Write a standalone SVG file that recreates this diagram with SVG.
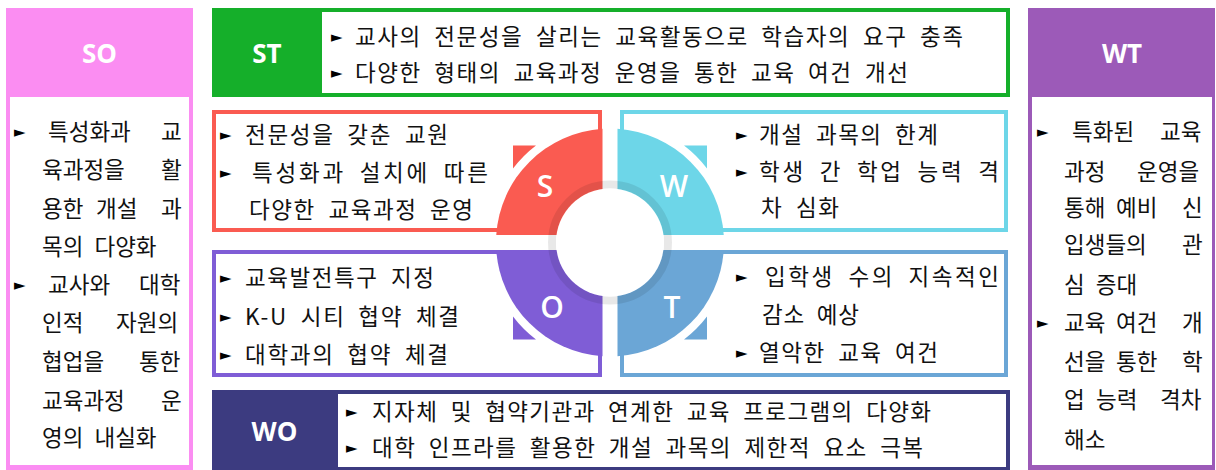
<svg xmlns="http://www.w3.org/2000/svg" width="1216" height="470" viewBox="0 0 1216 470">
<style>
.kr{font-family:"Noto Sans CJK KR","Noto Sans",sans-serif;font-size:22.5px;fill:#111;word-spacing:6px}
.ar{font-family:"DejaVu Sans",sans-serif;font-size:15px;fill:#000}
.hd{font-family:"Open Sans","Liberation Sans",sans-serif;font-weight:700;font-size:26px;fill:#fff;text-anchor:middle}
.q{font-family:"Open Sans","Liberation Sans",sans-serif;font-weight:600;font-size:30px;fill:#fff;text-anchor:middle}
.wb{fill:#fff}
.bx{fill:#fff;stroke-width:4}
</style>
<rect width="1216" height="470" fill="#fff"/>

<g id="SO">
<rect x="6" y="8" width="187" height="462" fill="#FB8DF2"/>
<rect class="wb" x="10" y="97" width="179" height="368"/>
<text class="hd" x="99.5" y="63">SO</text>
<text class="ar" x="14" y="137">►</text>
<text class="kr" y="140"><tspan x="48">특성화과</tspan><tspan x="161">교</tspan></text>
<text class="kr" y="178"><tspan x="42">육과정을</tspan><tspan x="161">활</tspan></text>
<text class="kr" y="217"><tspan x="42">용한</tspan><tspan x="96">개설</tspan><tspan x="161">과</tspan></text>
<text class="kr" x="42" y="255">목의 다양화</text>
<text class="ar" x="14" y="290">►</text>
<text class="kr" y="293"><tspan x="48">교사와</tspan><tspan x="139">대학</tspan></text>
<text class="kr" y="331"><tspan x="42">인적</tspan><tspan x="116">자원의</tspan></text>
<text class="kr" y="370"><tspan x="42">협업을</tspan><tspan x="139">통한</tspan></text>
<text class="kr" y="409"><tspan x="42">교육과정</tspan><tspan x="161">운</tspan></text>
<text class="kr" x="42" y="446">영의 내실화</text>
</g>

<g id="WT">
<rect x="1028" y="8" width="187" height="462" fill="#9C5AB8"/>
<rect class="wb" x="1032" y="97" width="180" height="368"/>
<text class="hd" x="1122" y="63">WT</text>
<text class="ar" x="1037" y="137">►</text>
<text class="kr" y="140"><tspan x="1072">특화된</tspan><tspan x="1160">교육</tspan></text>
<text class="kr" y="180"><tspan x="1064">과정</tspan><tspan x="1137">운영을</tspan></text>
<text class="kr" y="216"><tspan x="1064">통해</tspan><tspan x="1116">예비</tspan><tspan x="1182">신</tspan></text>
<text class="kr" y="253"><tspan x="1064">입생들의</tspan><tspan x="1182">관</tspan></text>
<text class="kr" x="1064" y="293">심 증대</text>
<text class="ar" x="1037" y="328">►</text>
<text class="kr" y="331"><tspan x="1064">교육</tspan><tspan x="1116">여건</tspan><tspan x="1182">개</tspan></text>
<text class="kr" y="370"><tspan x="1064">선을</tspan><tspan x="1116">통한</tspan><tspan x="1182">학</tspan></text>
<text class="kr" y="408"><tspan x="1064">업</tspan><tspan x="1096">능력</tspan><tspan x="1160">격차</tspan></text>
<text class="kr" x="1064" y="448">해소</text>
</g>

<g id="ST">
<rect x="212" y="8" width="798" height="89" fill="#15AF2A"/>
<rect class="wb" x="322" y="12" width="684" height="81"/>
<text class="hd" x="267" y="63">ST</text>
<text class="ar" x="331" y="42">►</text>
<text class="kr" x="355" y="45" textLength="608" lengthAdjust="spacing">교사의 전문성을 살리는 교육활동으로 학습자의 요구 충족</text>
<text class="ar" x="331" y="78">►</text>
<text class="kr" x="355" y="81" textLength="553" lengthAdjust="spacing">다양한 형태의 교육과정 운영을 통한 교육 여건 개선</text>
</g>

<g id="WO">
<rect x="212" y="390" width="798" height="80" fill="#3C3B80"/>
<rect class="wb" x="338" y="394" width="668" height="73"/>
<text class="hd" x="274.5" y="441">WO</text>
<text class="ar" x="346" y="417">►</text>
<text class="kr" x="372" y="420" textLength="559" lengthAdjust="spacing">지자체 및 협약기관과 연계한 교육 프로그램의 다양화</text>
<text class="ar" x="346" y="453">►</text>
<text class="kr" x="372" y="456" textLength="551" lengthAdjust="spacing">대학 인프라를 활용한 개설 과목의 제한적 요소 극복</text>
</g>

<g id="S-box">
<rect class="bx" x="214" y="112" width="386" height="118" stroke="#FA5B51"/>
<text class="ar" x="220" y="140">►</text>
<text class="kr" x="245" y="143" textLength="203" lengthAdjust="spacing">전문성을 갖춘 교원</text>
<text class="ar" x="220" y="178">►</text>
<text class="kr" x="252" y="181" textLength="236" lengthAdjust="spacing">특성화과 설치에 따른</text>
<text class="kr" x="249" y="218" textLength="224" lengthAdjust="spacing">다양한 교육과정 운영</text>
</g>

<g id="W-box">
<rect class="bx" x="622" y="112" width="384" height="118" stroke="#6DD6E8"/>
<text class="ar" x="736" y="140">►</text>
<text class="kr" x="759" y="143" textLength="179" lengthAdjust="spacing">개설 과목의 한계</text>
<text class="ar" x="736" y="177">►</text>
<text class="kr" x="759" y="180" textLength="240" lengthAdjust="spacing">학생 간 학업 능력 격</text>
<text class="kr" x="761" y="216" textLength="78" lengthAdjust="spacing">차 심화</text>
</g>

<g id="O-box">
<rect class="bx" x="214" y="252" width="386" height="123" stroke="#7F5DD6"/>
<text class="ar" x="220" y="283">►</text>
<text class="kr" x="245" y="286" textLength="189" lengthAdjust="spacing">교육발전특구 지정</text>
<text class="ar" x="220" y="322">►</text>
<text class="kr" x="245" y="325" textLength="214" lengthAdjust="spacing">K-U 시티 협약 체결</text>
<text class="ar" x="220" y="360">►</text>
<text class="kr" x="245" y="363" textLength="203" lengthAdjust="spacing">대학과의 협약 체결</text>
</g>

<g id="T-box">
<rect class="bx" x="622" y="252" width="384" height="123" stroke="#6BA6D6"/>
<text class="ar" x="736" y="282">►</text>
<text class="kr" x="765" y="285" textLength="234" lengthAdjust="spacing">입학생 수의 지속적인</text>
<text class="kr" x="762" y="323" textLength="97" lengthAdjust="spacing">감소 예상</text>
<text class="ar" x="736" y="358">►</text>
<text class="kr" x="759" y="361" textLength="179" lengthAdjust="spacing">열악한 교육 여건</text>
</g>

<g id="swot-circle">
<path d="M513,145.5 H536 A122,122 0 0 0 513,168.5 Z" fill="#FA5B51"/>
<path d="M707,145.5 V168.5 A122,122 0 0 0 684,145.5 Z" fill="#6DD6E8"/>
<path d="M707,339.5 H684 A122,122 0 0 0 707,316.5 Z" fill="#6BA6D6"/>
<path d="M513,339.5 V316.5 A122,122 0 0 0 536,339.5 Z" fill="#7F5DD6"/>
<path d="M602.5,235 V128.75 A114,114 0 0 0 496.25,235 Z" fill="#FA5B51"/>
<path d="M617.5,235 H723.75 A114,114 0 0 0 617.5,128.75 Z" fill="#6DD6E8"/>
<path d="M617.5,250 V356.25 A114,114 0 0 0 723.75,250 Z" fill="#6BA6D6"/>
<path d="M602.5,250 H496.25 A114,114 0 0 0 602.5,356.25 Z" fill="#7F5DD6"/>
<circle cx="610" cy="242.5" r="58" fill="none" stroke="#000" stroke-opacity="0.09" stroke-width="8"/>
<circle cx="610" cy="242.5" r="54" fill="#fff"/>
<text class="q" x="545" y="197">S</text>
<text class="q" x="674" y="197">W</text>
<text class="q" x="552" y="318">O</text>
<text class="q" x="672" y="318">T</text>
</g>

<g id="connectors"/>
</svg>
